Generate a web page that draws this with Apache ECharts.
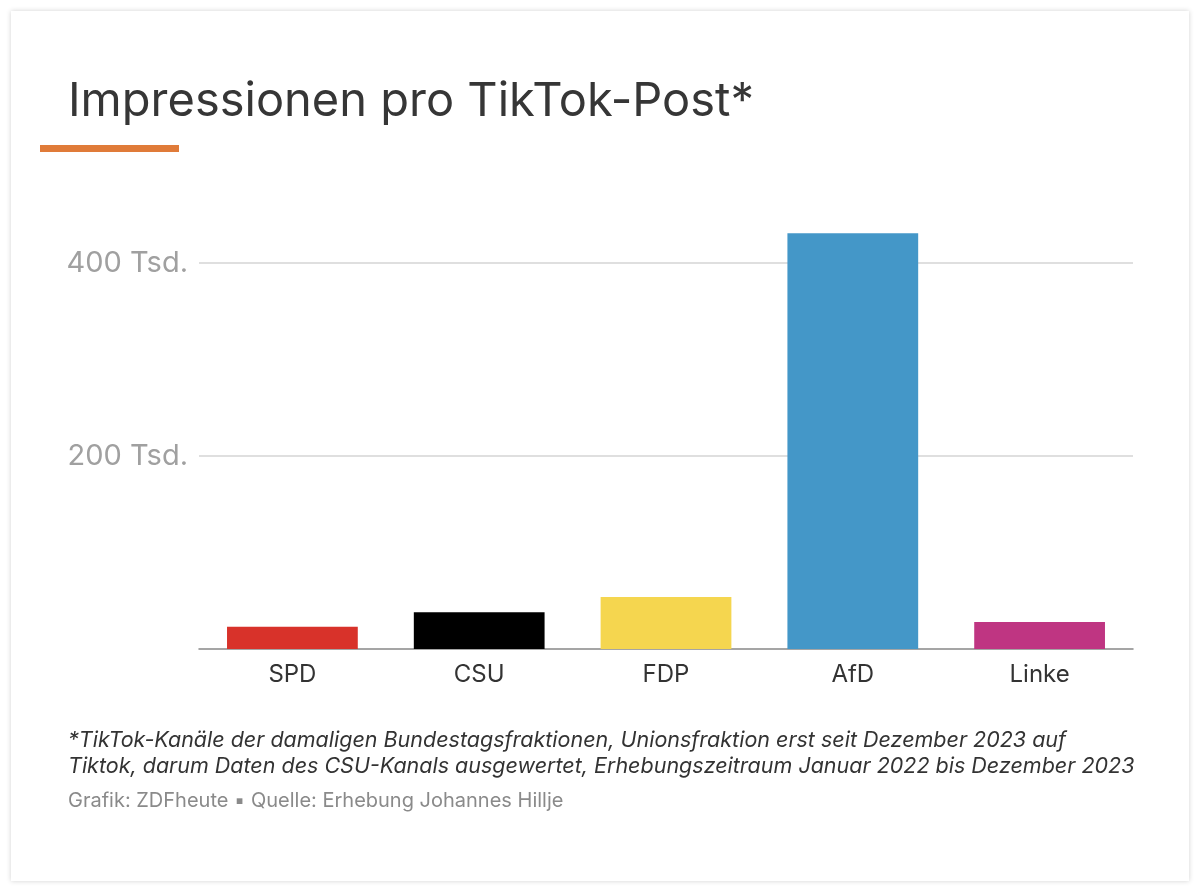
<!DOCTYPE html>
<html><head><meta charset="utf-8">
<script src="https://cdn.jsdelivr.net/npm/echarts@6/dist/echarts.min.js"></script>
<style>
html,body{margin:0;padding:0;background:#fff;width:1200px;height:892px;overflow:hidden;}
#card{position:absolute;left:11px;top:11px;width:1178px;height:870px;background:#fff;box-shadow:0 0 5px rgba(0,0,0,0.18);}
#chart{position:absolute;left:0;top:0;width:1200px;height:892px;}
</style></head>
<body><div id="card"></div><div id="chart"></div>
<script>
const categories = ['SPD','CSU','FDP','AfD','Linke'];
const values = [23000, 38000, 54000, 431000, 28000];
const colors = ['#d8322a','#000000','#f5d64f','#4497c8','#bf3582'];
const yTicks = [200000, 400000];
const titleText = 'Impressionen pro TikTok-Post*';
const noteLines = ['*TikTok-Kanäle der damaligen Bundestagsfraktionen, Unionsfraktion erst seit Dezember 2023 auf','Tiktok, darum Daten des CSU-Kanals ausgewertet, Erhebungszeitraum Januar 2022 bis Dezember 2023'];
const sourceText = 'Grafik: ZDFheute ▪ Quelle: Erhebung Johannes Hillje';

const chart = echarts.init(document.getElementById('chart'));
const font = 'Inter, Roboto, "Noto Sans", sans-serif';
chart.setOption({
  backgroundColor: 'transparent',
  animation: false,
  title: {
    text: titleText, left: 63, top: 73,
    textStyle: {fontFamily: font, fontSize: 47, fontWeight: 'normal', color: '#363636'}
  },
  grid: {left: 199, right: 67, top: 215, bottom: 243},
  xAxis: {
    type: 'category', data: categories,
    axisLine: {lineStyle: {color: '#888', width: 1.5}},
    axisTick: {show: false},
    axisLabel: {fontFamily: font, fontSize: 24, color: '#333', margin: 14}
  },
  yAxis: {
    type: 'value', min: 0, max: 450000, interval: 200000,
    axisLine: {show: false}, axisTick: {show: false},
    splitLine: {show: false},
    axisLabel: {
      fontFamily: font, fontSize: 29, color: '#a0a0a0', margin: 11,
      formatter: v => yTicks.includes(v) ? (v/1000) + ' Tsd.' : ''
    }
  },
  series: [{
    type: 'bar', barWidth: '70%', z: 3,
    data: values.map((v,i) => ({value: v, itemStyle: {color: colors[i]}})),
    markLine: {
      silent: true, symbol: 'none', label: {show: false}, z: 1,
      lineStyle: {color: '#d4d4d4', width: 1.5, type: 'solid'},
      data: yTicks.map(t => ({yAxis: t}))
    }
  }],
  graphic: [
    {type: 'rect', left: 40, top: 145, shape: {width: 139, height: 7}, style: {fill: '#e07b39'}},
    {type: 'text', left: 68, top: 728, style: {text: noteLines.join('\n'), font: 'italic 21.5px ' + font, fill: '#333', lineHeight: 26}},
    {type: 'text', left: 68, top: 791, style: {text: sourceText, font: '20px ' + font, fill: '#8a8a8a'}}
  ]
});
</script></body></html>
